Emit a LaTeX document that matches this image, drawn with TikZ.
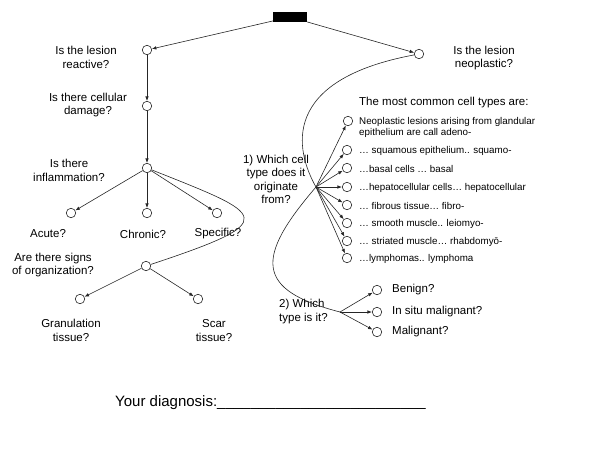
\documentclass[tikz,border=0pt]{standalone}
\usepackage{fontspec}
\setmainfont{Liberation Sans}
\usetikzlibrary{arrows.meta}
\begin{document}
\begin{tikzpicture}[x=1pt,y=-1pt,
  lbl/.style={inner sep=0pt, align=center, font=\fontsize{11.5}{13.5}\selectfont},
  lleft/.style={inner sep=0pt, anchor=west, align=left, font=\fontsize{11.5}{14.5}\selectfont},
  sml/.style={inner sep=0pt, anchor=west, align=left, font=\fontsize{9.8}{11.5}\selectfont},
  dot/.style={circle, draw=black!85, line width=0.6pt, minimum size=9.5pt, inner sep=0pt},
  arr/.style={draw=black!85, line width=0.6pt, -{Latex[length=4.5pt,width=3.5pt]}},
  crv/.style={draw=black!85, line width=0.6pt},
]
\useasboundingbox (0,0) rectangle (600,448);
% top box
\node[fill=black, minimum width=34pt, minimum height=10pt, inner sep=0pt] (top) at (290,17) {};
% circles
\node[dot] (react) at (147,50) {};
\node[dot] (neo) at (419,54) {};
\node[dot] (cell) at (147,106) {};
\node[dot] (infl) at (147,168) {};
\node[dot] (acute) at (71,213) {};
\node[dot] (chron) at (147,213) {};
\node[dot] (spec) at (217,213) {};
\node[dot] (org) at (146,266) {};
\node[dot] (gran) at (80,299) {};
\node[dot] (scar) at (198,299) {};
\coordinate (hubA) at (316,187);
\coordinate (hubB) at (340,312);
\node[dot] (c1) at (348,121) {};
\node[dot] (c2) at (347,150) {};
\node[dot] (c3) at (347,168) {};
\node[dot] (c4) at (347,187) {};
\node[dot] (c5) at (347,205) {};
\node[dot] (c6) at (347,223) {};
\node[dot] (c7) at (347,241) {};
\node[dot] (c8) at (347,258) {};
\node[dot] (benign) at (377,290) {};
\node[dot] (insitu) at (377,312) {};
\node[dot] (malig) at (377,332) {};
% labels
\node[lbl] at (86,57.5) {Is the lesion\\reactive?};
\node[lbl] at (484,58) {Is the lesion\\neoplastic?};
\node[lbl] at (88,105) {Is there cellular\\damage?};
\node[lbl] at (69,170.5) {Is there\\inflammation?};
\node[lbl] at (48,234) {Acute?};
\node[lbl] at (143,234) {Chronic?};
\node[lbl] at (218,234) {Specific?};
\node[lbl] at (53,265) {Are there signs\\of organization?};
\node[lbl] at (71,330.5) {Granulation\\tissue?};
\node[lbl] at (214,330.5) {Scar\\tissue?};
\node[lbl] at (276,179.5) {1) Which cell\\type does it\\originate\\from?};
\node[lleft] at (279,311.5) {2) Which\\type is it?};
\node[lleft] at (359,103) {The most common cell types are:};
\node[sml] at (359,127.5) {Neoplastic lesions arising from glandular\\epithelium are call adeno-};
\node[sml] at (359,151) {… squamous epithelium.. squamo-};
\node[sml] at (359,169) {…basal cells … basal};
\node[sml] at (359,187.5) {…hepatocellular cells… hepatocellular};
\node[sml] at (359,205.5) {… fibrous tissue… fibro-};
\node[sml] at (359,223.5) {… smooth muscle.. leiomyo-};
\node[sml] at (359,241.5) {… striated muscle… rhabdomyō-};
\node[sml] at (359,259) {…lymphomas.. lymphoma};
\node[lleft] at (392,290) {Benign?};
\node[lleft] at (392,312) {In situ malignant?};
\node[lleft] at (392,332) {Malignant?};
\node[inner sep=0pt, anchor=west, font=\fontsize{15}{18}\selectfont] at (115,403) {Your diagnosis:\_\_\_\_\_\_\_\_\_\_\_\_\_\_\_\_\_\_\_\_\_\_\_\_\_};
% connectors
\draw[arr] (top) -- (react);
\draw[arr] (top) -- (neo);
\draw[arr] (react) -- (cell);
\draw[arr] (cell) -- (infl);
\draw[arr] (infl) -- (acute);
\draw[arr] (infl) -- (chron);
\draw[arr] (infl) -- (spec);
\draw[crv] (infl) .. controls (265,215) and (285,220) .. (org);
\draw[arr] (org) -- (gran);
\draw[arr] (org) -- (scar);
\draw[crv] (neo) .. controls (280,80) and (295,150) .. (hubA);
\draw[crv] (hubA) .. controls (255,258) and (255,290) .. (hubB);
\foreach \c in {c1,c2,c3,c4,c5,c6,c7,c8} \draw[arr] (hubA) -- (\c);
\draw[arr] (hubB) -- (benign);
\draw[arr] (hubB) -- (insitu);
\draw[arr] (hubB) -- (malig);
\end{tikzpicture}
\end{document}
